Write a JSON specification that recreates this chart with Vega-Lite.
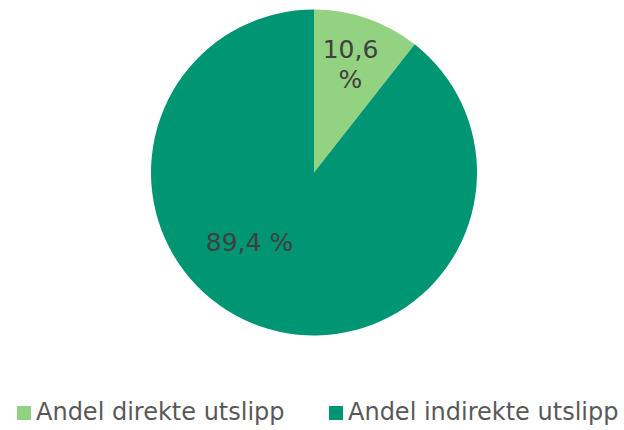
{
  "$schema": "https://vega.github.io/schema/vega-lite/v6.json",
  "autosize": "none",
  "width": 620,
  "height": 345,
  "padding": {"left": 4, "top": 0, "right": 0, "bottom": 85},
  "background": "white",
  "config": {"view": {"stroke": null}, "font": "DejaVu Sans"},
  "data": {
    "values": [
      {"kategori": "Andel direkte utslipp", "andel": 10.6, "label": "10,6\n%", "rekkefolge": 1},
      {"kategori": "Andel indirekte utslipp", "andel": 89.4, "label": "89,4 %", "rekkefolge": 2}
    ]
  },
  "encoding": {
    "theta": {"field": "andel", "type": "quantitative", "stack": true},
    "order": {"field": "rekkefolge", "type": "quantitative"},
    "color": {
      "field": "kategori",
      "type": "nominal",
      "scale": {"domain": ["Andel direkte utslipp", "Andel indirekte utslipp"], "range": ["#93D281", "#009573"]},
      "legend": {
        "title": null,
        "orient": "none",
        "direction": "horizontal",
        "legendX": 8,
        "legendY": 401,
        "padding": 0,
        "symbolType": "square",
        "symbolSize": 196,
        "symbolStrokeWidth": 0,
        "symbolOpacity": 1,
        "labelFontSize": 24,
        "labelColor": "#595959",
        "labelFont": "DejaVu Sans",
        "labelOffset": 0,
        "labelLimit": 400,
        "columnPadding": 39
      }
    }
  },
  "layer": [
    {"mark": {"type": "arc", "outerRadius": 163}},
    {
      "mark": {"type": "text", "radius": 130, "dx": -6, "fontSize": 25, "lineBreak": "\n", "lineHeight": 30, "baseline": "middle", "align": "center"},
      "encoding": {
        "text": {"condition": {"test": "datum.rekkefolge == 1", "field": "label"}, "value": ""},
        "color": {"value": "#404040"}
      }
    },
    {
      "mark": {"type": "text", "radius": 75, "dx": -40, "fontSize": 25, "baseline": "middle", "align": "center"},
      "encoding": {
        "text": {"condition": {"test": "datum.rekkefolge == 2", "field": "label"}, "value": ""},
        "color": {"value": "#404040"}
      }
    }
  ]
}
